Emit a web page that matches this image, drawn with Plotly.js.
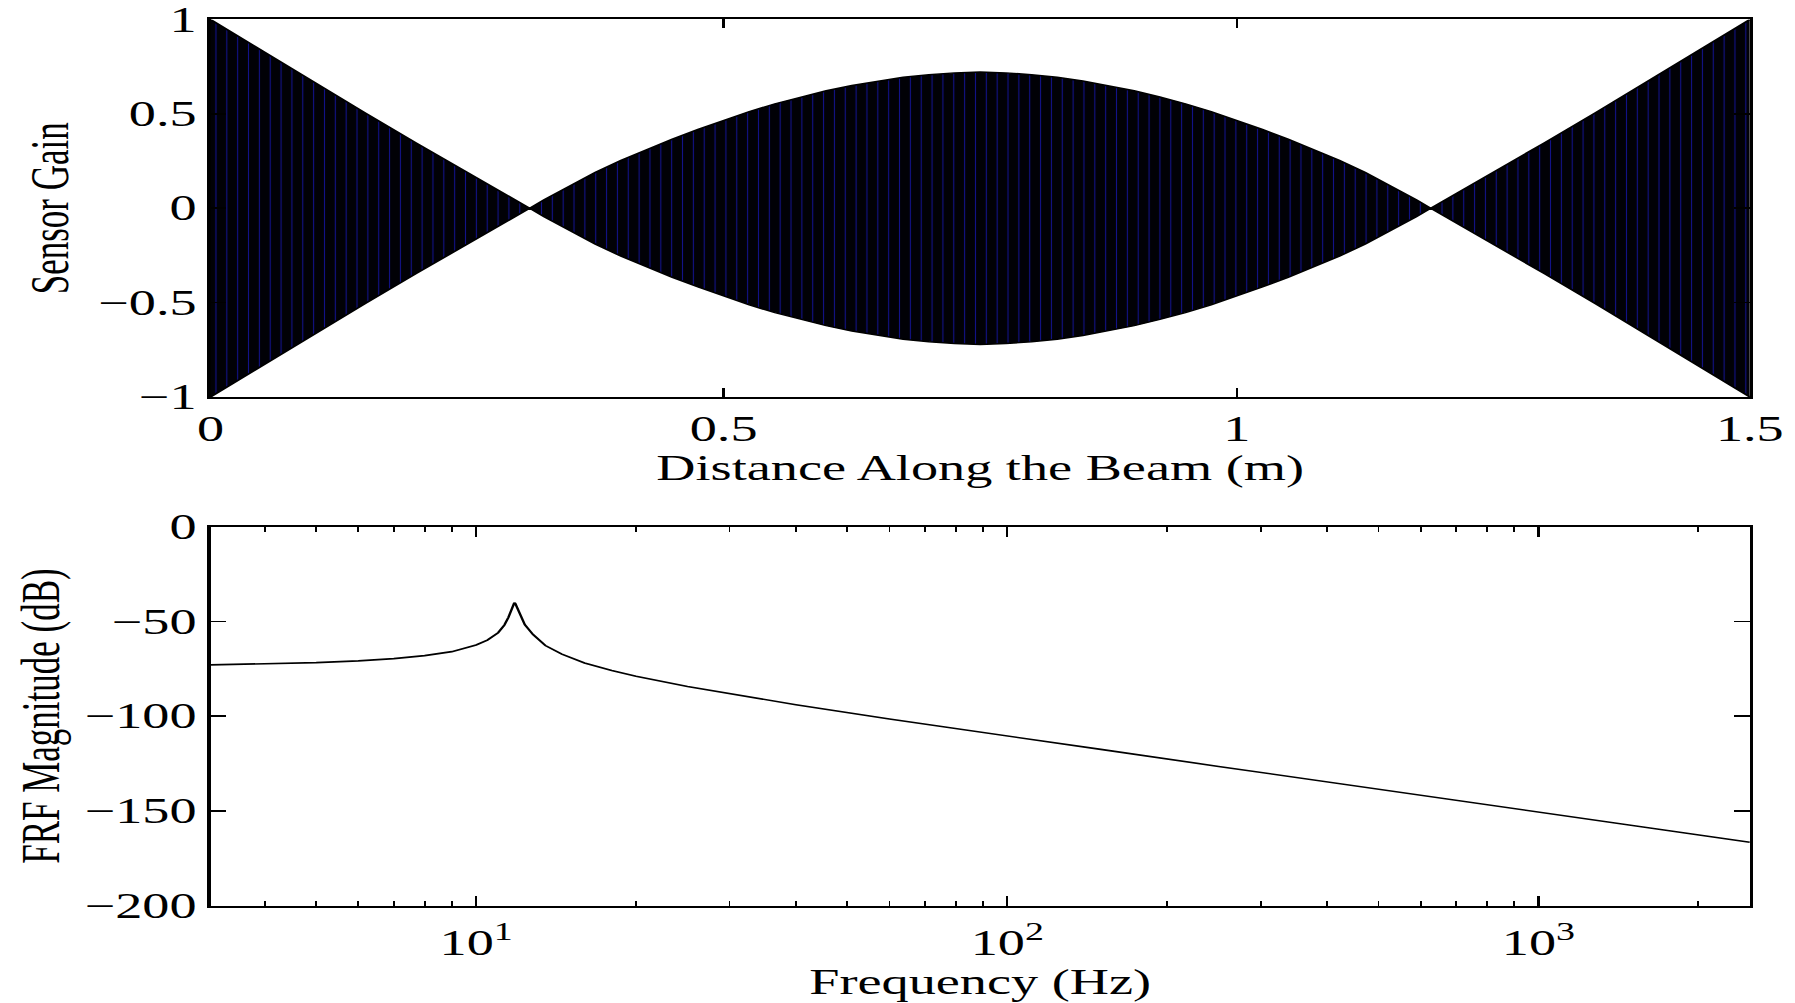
<!DOCTYPE html>
<html>
<head>
<meta charset="utf-8">
<script src="https://cdn.plot.ly/plotly-3.0.1.min.js"></script>
<style>
  html, body { margin: 0; padding: 0; background: #ffffff; overflow: hidden; }
  #chart { width: 1158px; height: 1003px; transform: scaleX(1.55); transform-origin: 0 0; }
</style>
</head>
<body>
<div id="chart"></div>
<script>
// ---- Top panel: sensor gain envelope along the beam
const sensorPosition = [0, 0.05, 0.1, 0.15, 0.2, 0.25, 0.311, 0.325, 0.35, 0.375, 0.4, 0.425, 0.45, 0.475, 0.5,
                        0.525, 0.55, 0.575, 0.6, 0.625, 0.65, 0.675, 0.7, 0.725, 0.75,
                        0.775, 0.8, 0.825, 0.85, 0.875, 0.9, 0.925, 0.95, 0.975, 1.0,
                        1.025, 1.05, 1.075, 1.1, 1.125, 1.15, 1.175, 1.189, 1.25, 1.3, 1.35, 1.4, 1.45, 1.5];
const sensorGainEnvelope = [1.0, 0.835, 0.67, 0.507, 0.347, 0.19, 0.0, 0.045, 0.12, 0.19, 0.254, 0.312, 0.366, 0.417, 0.465,
                            0.512, 0.553, 0.589, 0.622, 0.65, 0.674, 0.694, 0.707, 0.717, 0.722,
                            0.717, 0.707, 0.694, 0.674, 0.65, 0.622, 0.589, 0.553, 0.512, 0.465,
                            0.417, 0.366, 0.312, 0.254, 0.19, 0.12, 0.045, 0.0, 0.19, 0.347, 0.507, 0.67, 0.835, 1.0];
const beamTickVals = [0, 0.5, 1, 1.5];
const beamTickText = ['0', '0.5', '1', '1.5'];
const gainTickVals = [-1, -0.5, 0, 0.5, 1];
const gainTickText = ['\u22121', '\u22120.5', '0', '0.5', '1'];

// ---- Bottom panel: FRF magnitude
const frequencyHz = [3.16, 4, 5, 6, 7, 8, 9, 10, 10.5, 11, 11.3, 11.5, 11.65, 11.75, 11.8, 11.85, 11.95, 12.1, 12.35,
                     12.8, 13.5, 14.5, 16, 18, 20, 25, 30, 40, 60, 100, 150, 250, 400, 600, 1000, 1500, 2500];
const frfMagnitudeDb = [-73.0, -72.4, -71.8, -70.9, -69.7, -68.1, -66.0, -62.5, -59.9, -56.0, -52.0, -48.0, -44.0, -41.2,
                        -40.2, -40.6, -43.0, -47.0, -51.8, -57.0, -62.8, -67.3, -72.0, -76.0, -79.0, -84.4, -88.2, -94.0,
                        -101.6, -110.7, -117.6, -126.6, -134.7, -141.8, -150.6, -157.7, -166.6];
const freqTickVals = [10, 100, 1000];
const freqTickText = ['10<sup>1</sup>', '10<sup>2</sup>', '10<sup>3</sup>'];
const freqMinorTicks = [4, 5, 6, 7, 8, 9, 20, 30, 40, 50, 60, 70, 80, 90, 200, 300, 400, 500, 600, 700, 800, 900, 2000];
const magTickVals = [-200, -150, -100, -50, 0];

const FONT = 'Liberation Serif, Times New Roman, serif';

const traces = [
  {
    x: sensorPosition, y: sensorGainEnvelope,
    type: 'scatter', mode: 'lines', xaxis: 'x', yaxis: 'y',
    line: { color: '#000000', width: 1.5 }, hoverinfo: 'skip'
  },
  {
    x: sensorPosition, y: sensorGainEnvelope.map(v => -v),
    type: 'scatter', mode: 'lines', xaxis: 'x', yaxis: 'y',
    fill: 'tonexty', fillcolor: '#020214',
    fillpattern: { shape: '|', bgcolor: '#010106', fgcolor: '#12128a', size: 7, solidity: 0.1 },
    line: { color: '#000000', width: 1.5 }, hoverinfo: 'skip'
  },
  {
    x: frequencyHz, y: frfMagnitudeDb,
    type: 'scatter', mode: 'lines', xaxis: 'x2', yaxis: 'y2',
    line: { color: '#000000', width: 1.6 }
  }
];

const axisCommon = {
  showline: true, linecolor: '#000000', linewidth: 2,
  mirror: 'ticks', ticks: 'inside', tickcolor: '#000000', tickwidth: 1.5,
  showgrid: false, zeroline: false,
  tickfont: { family: FONT, size: 35, color: '#000000' }
};

const layout = {
  width: 1158, height: 1003,
  margin: { l: 0, r: 0, t: 0, b: 0 },
  paper_bgcolor: '#ffffff', plot_bgcolor: '#ffffff',
  font: { family: FONT, size: 35, color: '#000000' },
  showlegend: false,
  xaxis: Object.assign({}, axisCommon, {
    domain: [0.1173, 0.9749], anchor: 'y', range: [0, 1.5],
    tickmode: 'array', tickvals: beamTickVals, ticktext: beamTickText, ticklen: 9,
    ticklabelstandoff: 0,
    title: { text: 'Distance Along the Beam (m)', standoff: 0, font: { family: FONT, size: 35 } }
  }),
  yaxis: Object.assign({}, axisCommon, {
    domain: [0.6042, 0.9806], anchor: 'x', range: [-1, 1],
    tickmode: 'array', tickvals: gainTickVals, ticktext: gainTickText, ticklen: 10,
    ticklabelstandoff: 0,
    title: { text: 'Sensor Gain', standoff: 8, font: { family: FONT, size: 35 } }
  }),
  xaxis2: Object.assign({}, axisCommon, {
    type: 'log', domain: [0.1173, 0.9749], anchor: 'y2', range: [0.5, 3.398],
    tickmode: 'array', tickvals: freqTickVals, ticktext: freqTickText, ticklen: 10,
    ticklabelstandoff: 5,
    minor: { tickmode: 'array', tickvals: freqMinorTicks, ticks: 'inside', ticklen: 5, tickwidth: 1.2, tickcolor: '#000000', showgrid: false },
    title: { text: 'Frequency (Hz)', standoff: 0, font: { family: FONT, size: 35 } }
  }),
  yaxis2: Object.assign({}, axisCommon, {
    domain: [0.0972, 0.4750], anchor: 'x2', range: [-200, 0],
    tickmode: 'array', tickvals: magTickVals, ticklen: 10,
    ticklabelstandoff: 0,
    title: { text: 'FRF Magnitude (dB)', standoff: 5, font: { family: FONT, size: 35 } }
  })
};

Plotly.newPlot('chart', traces, layout, { displayModeBar: false, staticPlot: true });
</script>
</body>
</html>
